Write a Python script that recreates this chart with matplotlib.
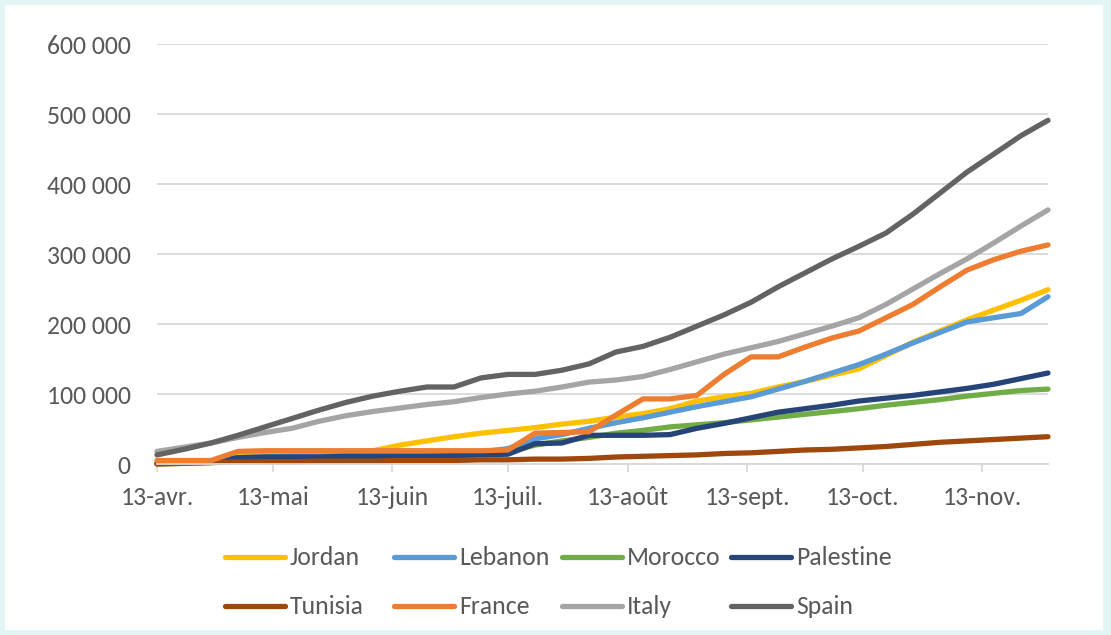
import matplotlib
matplotlib.use("Agg")
import matplotlib.pyplot as plt
from matplotlib.lines import Line2D
from matplotlib.patches import Rectangle
from matplotlib.ticker import FuncFormatter
import pandas as pd

# Weekly observations, 13 April -> 30 November
dates = pd.date_range("2020-04-13", periods=34, freq="7D")

jordan = [1, 2, 3, 11, 13, 14, 15, 16, 19, 27, 33, 39, 44, 48, 52, 57, 61,
          67, 72, 79, 90, 96, 101, 110, 118, 127, 136, 155, 174, 190, 206, 220, 234, 249]
lebanon = [1, 2, 3, 9, 10, 11, 11, 12, 12, 13, 13, 14, 17, 22, 36, 42, 51,
           59, 66, 74, 82, 89, 96, 107, 118, 130, 142, 157, 173, 188, 203, 209, 215, 239]
morocco = [0, 1, 2, 4, 5, 6, 7, 8, 9, 10, 11, 12, 14, 17, 27, 33, 38,
           44, 48, 53, 56, 59, 63, 67, 71, 75, 79, 84, 88, 92, 97, 101, 105, 107]
palestine = [1, 2, 4, 9, 10, 10, 10, 11, 11, 11, 11, 12, 13, 14, 29, 30, 41,
             41, 41, 42, 51, 58, 66, 74, 79, 84, 90, 94, 98, 103, 108, 114, 122, 130]
tunisia = [0, 1, 2, 3, 3, 3, 4, 4, 4, 5, 5, 5, 6, 6, 7, 7, 8,
           10, 11, 12, 13, 15, 16, 18, 20, 21, 23, 25, 28, 31, 33, 35, 37, 39]
france = [5, 5, 5, 18, 19, 19, 19, 19, 19, 19, 19, 19, 19, 20, 44, 45, 46,
          70, 93, 93, 98, 128, 153, 153, 167, 180, 190, 209, 228, 253, 277, 292, 304, 313]
italy = [18, 24, 30, 38, 45, 51, 61, 69, 75, 80, 85, 89, 95, 100, 104, 110, 117,
         120, 125, 135, 146, 157, 166, 175, 186, 197, 209, 228, 250, 272, 293, 316, 340, 363]
spain = [13, 21, 30, 41, 53, 65, 77, 88, 97, 104, 110, 110, 123, 128, 128, 134, 143,
         160, 168, 181, 197, 213, 231, 253, 273, 293, 311, 330, 357, 387, 417, 443, 469, 491]

series_names = ["Jordan", "Lebanon", "Morocco", "Palestine",
                "Tunisia", "France", "Italy", "Spain"]
series_values = [jordan, lebanon, morocco, palestine,
                 tunisia, france, italy, spain]
series_colors = ["#FFC000", "#5B9BD5", "#70AD47", "#264478",
                 "#9E480E", "#ED7D31", "#A5A5A5", "#636363"]

tick_dates = pd.to_datetime(["2020-04-13", "2020-05-13", "2020-06-13", "2020-07-13",
                             "2020-08-13", "2020-09-13", "2020-10-13", "2020-11-13"])
tick_labels = ["13-avr.", "13-mai", "13-juin", "13-juil.",
               "13-août", "13-sept.", "13-oct.", "13-nov."]
y_ticks = [0, 100000, 200000, 300000, 400000, 500000, 600000]

W, H = 1111, 635
TXT = "#595959"
GRID = "#D9D9D9"
FS = 18.5

plt.rcParams["font.family"] = ["Carlito", "DejaVu Sans"]

fig = plt.figure(figsize=(W / 100, H / 100), dpi=100)
fig.patch.set_facecolor("#E4F5F5")
fig.add_artist(Rectangle((5 / W, 5 / H), (1103 - 5) / W, (630 - 5) / H,
                         transform=fig.transFigure, facecolor="white",
                         edgecolor="none", zorder=-10))

ax = fig.add_axes([157 / W, 1 - 464 / H, (1048 - 157) / W, (464 - 44) / H])
ax.set_facecolor("none")

for name, vals, col in zip(series_names, series_values, series_colors):
    ax.plot(dates, [v * 1000 for v in vals], color=col, lw=3.8,
            solid_capstyle="round", solid_joinstyle="round", clip_on=False)

ax.set_xlim(dates[0], dates[-1])
ax.set_ylim(0, 600000)
ax.set_yticks(y_ticks)
ax.yaxis.set_major_formatter(FuncFormatter(lambda v, p: f"{int(v):,}".replace(",", " ")))
ax.set_xticks(tick_dates)
ax.set_xticklabels(tick_labels)

ax.grid(axis="y", color=GRID, lw=1.3)
ax.set_axisbelow(True)
for s in ["top", "right", "left"]:
    ax.spines[s].set_visible(False)
ax.spines["bottom"].set_color(GRID)
ax.spines["bottom"].set_linewidth(1.3)

ax.tick_params(axis="y", length=0, pad=19, labelsize=FS, labelcolor=TXT)
ax.tick_params(axis="x", length=6, width=1.3, color=GRID, pad=10,
               labelsize=FS, labelcolor=TXT)

# Legend laid out as four equal-width columns, two rows
col_x = [225, 394, 562, 731]
row_y = [557, 606]
handle_len = 60
for k, (name, col) in enumerate(zip(series_names, series_colors)):
    r, c = divmod(k, 4)
    x0 = col_x[c]
    y = 1 - row_y[r] / H
    fig.add_artist(Line2D([x0 / W, (x0 + handle_len) / W], [y, y],
                          transform=fig.transFigure, color=col, lw=3.8,
                          solid_capstyle="round"))
    fig.text((x0 + handle_len + 5) / W, 1 - (row_y[r] + 8) / H, name,
             fontsize=FS, color=TXT, va="baseline", ha="left")

fig.savefig("out.png", dpi=100, facecolor=fig.get_facecolor())
